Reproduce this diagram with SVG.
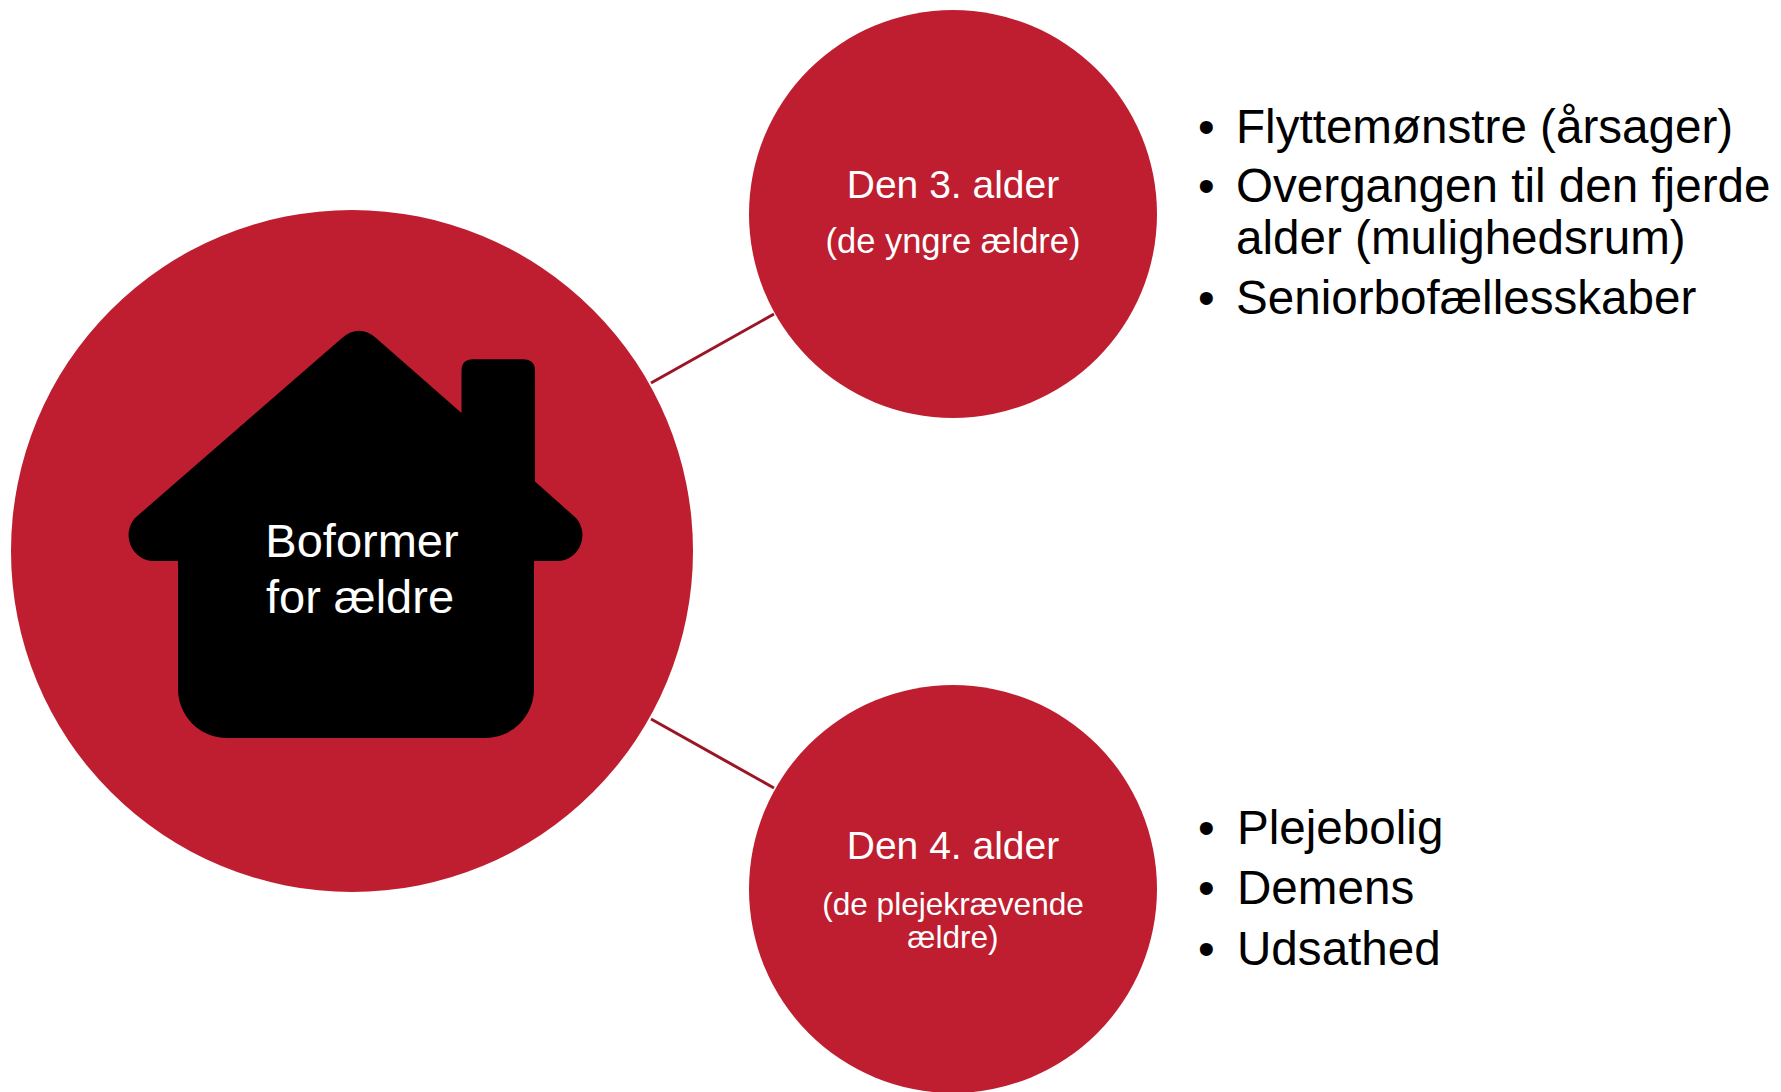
<svg xmlns="http://www.w3.org/2000/svg" width="1781" height="1092" viewBox="0 0 1781 1092">
<style>
.node{fill:#BE1E2F}
.conn{stroke:#9C1525;stroke-width:3;fill:none}
.wt{fill:#FFFFFF;font-family:"Liberation Sans",Arial,sans-serif;text-anchor:middle}
.bl{fill:#000000;font-family:"Liberation Sans",Arial,sans-serif;font-size:47.6px}
</style>
<rect x="0" y="0" width="1781" height="1092" fill="#FFFFFF"/>
<g id="connectors">
<line class="conn" x1="651" y1="383" x2="774" y2="314"/>
<line class="conn" x1="651" y1="719" x2="774" y2="788"/>
</g>
<g id="node-boformer">
<circle class="node" cx="352" cy="551" r="341"/>
<path fill="#000000" d="M342 338 Q359 323.6 376 338 L461.5 413 V371 Q461.5 359.3 473 359.3 H523 Q535 359.3 535 371 V481.5 L576 518 A26 26 0 0 1 559 561 H534 V689 A49 49 0 0 1 485 738 H227 A49 49 0 0 1 178 689 V561 H152 A26 26 0 0 1 135 518 Z"/>
<text class="wt" font-size="47" x="362" y="557">Boformer</text>
<text class="wt" font-size="47" x="360" y="613">for ældre</text>
</g>
<g id="node-3alder">
<circle class="node" cx="953" cy="214" r="204"/>
<text class="wt" font-size="39" x="953" y="198">Den 3. alder</text>
<text class="wt" font-size="34.5" x="953" y="253">(de yngre ældre)</text>
</g>
<g id="node-4alder">
<circle class="node" cx="953" cy="889" r="204"/>
<text class="wt" font-size="39" x="953" y="859">Den 4. alder</text>
<text class="wt" font-size="31.6" x="953" y="915">(de plejekrævende</text>
<text class="wt" font-size="31.6" x="953" y="948">ældre)</text>
</g>
<g id="list-3alder">
<text class="bl" x="1198" y="143">•</text>
<text class="bl" x="1236" y="143">Flyttemønstre (årsager)</text>
<text class="bl" x="1198" y="202">•</text>
<text class="bl" x="1236" y="202">Overgangen til den fjerde</text>
<text class="bl" x="1236" y="253.5">alder (mulighedsrum)</text>
<text class="bl" x="1198" y="313.5">•</text>
<text class="bl" x="1236" y="313.5">Seniorbofællesskaber</text>
</g>
<g id="list-4alder">
<text class="bl" x="1198" y="844">•</text>
<text class="bl" x="1237" y="844">Plejebolig</text>
<text class="bl" x="1198" y="904">•</text>
<text class="bl" x="1237" y="904">Demens</text>
<text class="bl" x="1198" y="965">•</text>
<text class="bl" x="1237" y="965">Udsathed</text>
</g>
</svg>
